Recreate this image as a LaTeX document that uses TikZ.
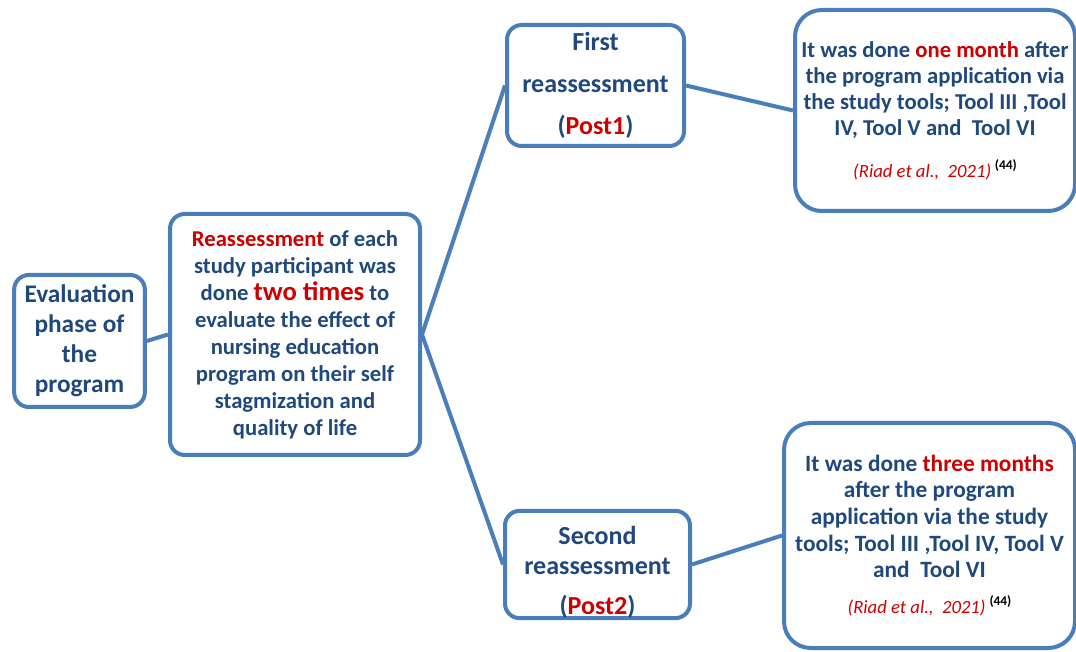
\documentclass[tikz,border=0pt]{standalone}
\usepackage{fontspec}
\setmainfont{Carlito}
\usepackage{tikz}
\usetikzlibrary{positioning}
\usepackage{xcolor}
\definecolor{boxblue}{RGB}{74,126,187}
\definecolor{navy}{RGB}{31,73,125}
\definecolor{darkred}{RGB}{204,0,0}
\newcommand{\redtxt}[1]{\textcolor{darkred}{#1}}
\newcommand{\riadcite}{{\fontsize{14}{16}\selectfont\mdseries\itshape\redtxt{(Riad et al.,\ \ 2021)}}\,\raisebox{6pt}{\fontsize{10}{10}\selectfont\bfseries\color{black}(44)}}

\begin{document}
\begin{tikzpicture}[x=0.75pt, y=-0.75pt,
    box/.style={rectangle, rounded corners=11pt, draw=boxblue, line width=3pt, fill=white, text=navy, align=center, inner sep=0pt},
    bigbox/.style={box, rounded corners=20pt},
    link/.style={draw=boxblue, line width=3pt}]
    \useasboundingbox (0,0) rectangle (1076,652);

    \node[box, minimum width=98pt, minimum height=99pt, font=\fontsize{19}{22.5}\selectfont\bfseries] (eval) at (79.5,341) {Evaluation\\phase of\\the\\program};
    \node[box, minimum width=187.5pt, minimum height=180.75pt, font=\fontsize{17}{20.25}\selectfont\bfseries] (reass) at (295,334.5)
        {\redtxt{Reassessment} of each\\study participant was\\done {\fontsize{20}{20.25}\selectfont\redtxt{two times}} to\\evaluate the effect of\\nursing education\\program on their self\\stagmization and\\quality of life};

    \node[box, minimum width=132.75pt, minimum height=90.75pt, font=\fontsize{19.5}{23.5}\selectfont\bfseries] (post1) at (595.5,85.5) {First\\[8pt]reassessment\\[8pt](\redtxt{Post1})};
    \node[box, minimum width=138.75pt, minimum height=75.75pt, font=\fontsize{19.5}{22.5}\selectfont\bfseries] (post2) at (597.5,564.5) {\rule{0pt}{25pt}Second\\reassessment\\[7.5pt](\redtxt{Post2})};

    % time of each reassessment
    \node[bigbox, minimum width=210pt, minimum height=150.75pt, font=\fontsize{17}{19.5}\selectfont\bfseries] (month1) at (935,110.5)
        {It was done \redtxt{one month} after\\the program application via\\the study tools; Tool III ,Tool\\IV, Tool V and\ \ Tool VI\\[12pt]\riadcite};
    \node[bigbox, minimum width=218.25pt, minimum height=168.75pt, font=\fontsize{17.5}{20}\selectfont\bfseries] (month3) at (929.5,535.5)
        {It was done \redtxt{three months}\\after the program\\application via\ the study\\tools; Tool III ,Tool IV, Tool V\\and\ \ Tool VI\\[7pt]\riadcite};

    \draw[link] (eval.east) -- (reass.west);
    \draw[link] (reass.east) -- (post1.west);
    \draw[link] (reass.east) -- (post2.west);
    \draw[link] (post1.east) -- (month1.west);
    \draw[link] (post2.east) -- (month3.west);
\end{tikzpicture}
\end{document}
